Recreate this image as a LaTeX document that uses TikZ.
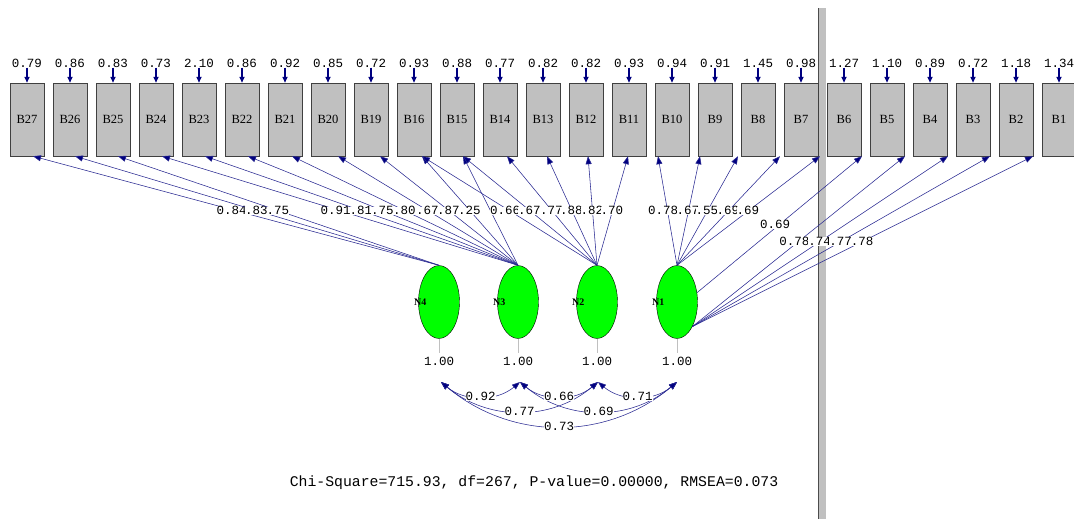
\documentclass[tikz,border=0pt]{standalone}
\usepackage{fontspec}
\usepackage{xcolor}
\usepackage{tikz}
\usetikzlibrary{arrows.meta,shapes.geometric}
\setmonofont{Liberation Mono}
\newfontfamily\boxfont{Liberation Serif}
\definecolor{pathblue}{RGB}{0,0,128}
\definecolor{lineblue}{RGB}{40,40,145}
\definecolor{boxgray}{RGB}{192,192,192}
\definecolor{factorgreen}{RGB}{0,255,0}

\begin{document}
\begin{tikzpicture}[x=1pt, y=-1pt,
  indicator/.style={draw=black!75, fill=boxgray, minimum width=34pt, minimum height=73pt, inner sep=0pt, font=\boxfont\fontsize{12.5}{12.5}\selectfont},
  factor/.style={ellipse, draw=black, fill=factorgreen, minimum width=41pt, minimum height=73pt, inner sep=0pt},
  fname/.style={font=\boxfont\bfseries\fontsize{10}{10}\selectfont, inner sep=0pt},
  num/.style={font=\ttfamily\fontsize{12.5}{12.5}\selectfont, inner sep=0.3pt},
  lab/.style={num, fill=white, inner sep=0pt, pos=0.5, anchor=east, xshift=11pt},
  err/.style={draw=pathblue, line width=2pt, -{Triangle[length=6pt,width=5pt]}},
  load/.style={draw=lineblue, line width=0.55pt, -{Triangle[length=8pt,width=6pt,fill=pathblue]}},
  cov/.style={draw=lineblue, line width=0.55pt, {Triangle[length=8pt,width=6pt,fill=pathblue]}-{Triangle[length=8pt,width=6pt,fill=pathblue]}, bend right=40}]
\useasboundingbox (0,0) rectangle (1074,519);

% splitter bar
\fill[black!70] (817.5,8) rectangle (819,519);
\fill[boxgray] (819,8) rectangle (826,519);

% observed variables and error variances
\foreach \b/\e [count=\i from 0] in {27/0.79, 26/0.86, 25/0.83, 24/0.73, 23/2.10, 22/0.86, 21/0.92, 20/0.85, 19/0.72, 16/0.93, 15/0.88, 14/0.77, 13/0.82, 12/0.82, 11/0.93, 10/0.94, 9/0.91, 8/1.45, 7/0.98, 6/1.27, 5/1.10, 4/0.89, 3/0.72, 2/1.18, 1/1.34} {
  \node[indicator] (B\b) at (27+43*\i, 119.5) {B\b};
  \node[num] (e\b) at (27+43*\i, 63) {\e};
  \draw[err] (e\b.south) -- (B\b.north);
}

% latent factors
\node[factor] (N4) at (439,302) {};
\node[factor] (N3) at (518,302) {};
\node[factor] (N2) at (597,302) {};
\node[factor] (N1) at (677,302) {};
\node[fname] (n4) at ([xshift=2pt]N4.west) {N4};
\node[fname] (n3) at ([xshift=2pt]N3.west) {N3};
\node[fname] (n2) at ([xshift=2pt]N2.west) {N2};
\node[fname] (n1) at ([xshift=2pt]N1.west) {N1};

% loadings
\draw[load] (N3.north) -- ([xshift=6pt]B15.south);
\foreach \s/\b/\d/\v in {N4.north/27/6/0.84, N4.north/26/5/.83, N4.north/25/5/.75,
    N3.north/24/6/0.91, N3.north/23/6/.81, N3.north/22/6/.75, N3.north/21/7/.80, N3.north/20/10/.67, N3.north/19/9/.87, N3.north/16/8/.25,
    N2.north/16/8/0.66, N2.north/15/6/.67, N2.north/14/7/.77, N2.north/13/4/.88, N2.north/12/2/.82, N2.north/11/-1/.70,
    N1.north/10/-14/0.78, N1.north/9/-15/.67, N1.north/8/-20/.55, N1.north/7/-21/.69, N1.north/6/-24/.69,
    N1.25/5/-25/0.69,
    N1.-58/4/-25/0.78, N1.-58/3/-25/.74, N1.-58/2/-26/.77, N1.-58/1/-26/.78} {
  \draw[load] (\s) -- ([xshift=\d pt]B\b.south) node[lab] {\v};
}

% factor variances
\node[num] (v4) at (439,361) {1.00};
\node[num] (v3) at (518,361) {1.00};
\node[num] (v2) at (597,361) {1.00};
\node[num] (v1) at (677,361) {1.00};
\foreach \f in {1,2,3,4}
  \draw[boxgray, line width=0.8pt, shorten >=3pt] (N\f.south) -- (v\f.north);

% correlations
\coordinate (c4) at (441,382);
\coordinate (c3) at (520,382);
\coordinate (c2) at (598,382);
\coordinate (c1) at (677,382);
\draw[cov] (c4) to node[num, fill=white, inner sep=0pt] {0.73} (c1);
\draw[cov] (c4) to node[num, fill=white, inner sep=0pt] {0.77} (c2);
\draw[cov] (c3) to node[num, fill=white, inner sep=0pt] {0.69} (c1);
\draw[cov] (c4) to node[num, fill=white, inner sep=0pt] {0.92} (c3);
\draw[cov] (c3) to node[num, fill=white, inner sep=0pt] {0.66} (c2);
\draw[cov] (c2) to node[num, fill=white, inner sep=0pt] {0.71} (c1);

\node[font=\ttfamily\fontsize{14.8}{15}\selectfont] (fit) at (534,483) {Chi-Square=715.93, df=267, P-value=0.00000, RMSEA=0.073};
\end{tikzpicture}
\end{document}
